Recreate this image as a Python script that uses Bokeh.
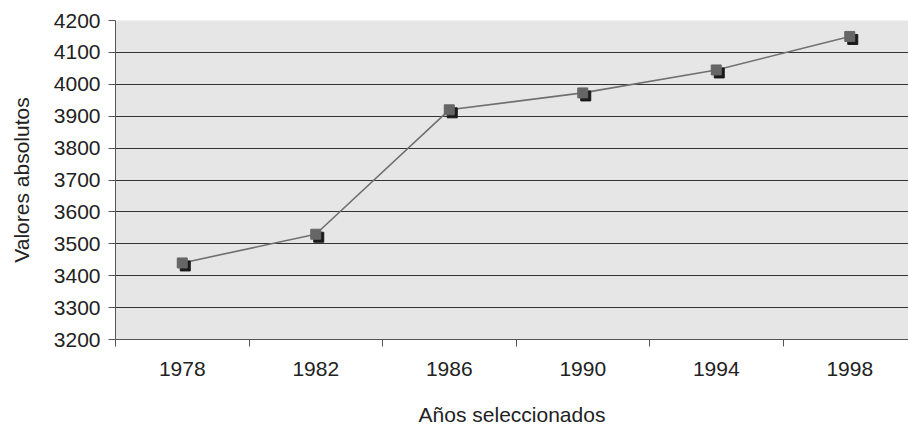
from bokeh.plotting import figure
from bokeh.models import FixedTicker, ColumnDataSource, Range1d
from bokeh.transform import dodge
from bokeh.embed import file_html
from bokeh.resources import INLINE

years = ["1978", "1982", "1986", "1990", "1994", "1998"]
values = [3440, 3530, 3920, 3973, 4045, 4150]
y_ticks = [3200, 3300, 3400, 3500, 3600, 3700, 3800, 3900, 4000, 4100, 4200]

centers = [i + 0.5 for i in range(len(years))]
bounds = [float(i) for i in range(len(years))]

src = ColumnDataSource(dict(x=centers, y=values))

FONT = "Liberation Sans"
CAT_PX = 133.5
FRAME_W = 793

p = figure(frame_width=FRAME_W, frame_height=319,
           min_border_left=115, min_border_right=0, min_border_top=20, min_border_bottom=92,
           x_range=Range1d(0, FRAME_W / CAT_PX), y_range=Range1d(3200, 4200),
           output_backend="svg", toolbar_location=None,
           border_fill_color="#ffffff")

p.background_fill_color = "#e6e6e6"
p.outline_line_color = None

# x axis: labels at category centres, tick marks at category boundaries
p.xaxis.ticker = FixedTicker(ticks=centers, minor_ticks=bounds)
p.xaxis.major_label_overrides = {c: y for c, y in zip(centers, years)}
p.xaxis.major_tick_out = 0
p.xaxis.major_tick_in = 0
p.xaxis.minor_tick_out = 7
p.xaxis.minor_tick_in = 0
p.xaxis.minor_tick_line_color = "#555555"
p.xaxis.axis_line_color = "#555555"
p.xaxis.major_label_standoff = 15
p.xaxis.axis_label = "Años seleccionados"
p.xaxis.axis_label_standoff = 24

p.yaxis.ticker = FixedTicker(ticks=y_ticks)
p.yaxis.major_tick_out = 7
p.yaxis.major_tick_in = 0
p.yaxis.minor_tick_line_color = None
p.yaxis.major_tick_line_color = "#555555"
p.yaxis.axis_line_color = "#555555"
p.yaxis.major_label_standoff = 8
p.yaxis.axis_label = "Valores absolutos"
p.yaxis.axis_label_standoff = 18

for ax in (p.xaxis, p.yaxis):
    ax.major_label_text_font = FONT
    ax.major_label_text_font_size = "21px"
    ax.major_label_text_color = "#222222"
    ax.axis_label_text_font = FONT
    ax.axis_label_text_font_size = "21px"
    ax.axis_label_text_font_style = "normal"
    ax.axis_label_text_color = "#222222"

p.xgrid.grid_line_color = None
p.ygrid.ticker = FixedTicker(ticks=y_ticks)
p.ygrid.grid_line_color = "#333333"
p.ygrid.grid_line_width = 1

p.line("x", "y", source=src, line_color="#707070", line_width=1.6)
p.scatter(dodge("x", 3 / CAT_PX), dodge("y", -3 * 1000 / 319), source=src,
          marker="square", size=10, fill_color="#1a1a1a", line_color="#1a1a1a")
p.scatter("x", "y", source=src, marker="square", size=10,
          fill_color="#666666", line_color="#666666")

open("out.html", "w").write(file_html(p, INLINE))
